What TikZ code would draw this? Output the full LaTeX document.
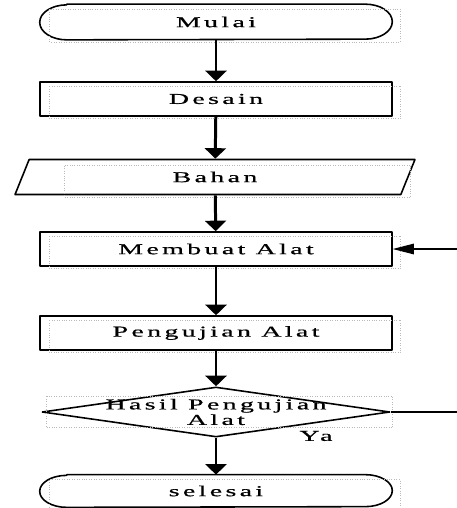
\documentclass[tikz,border=0pt]{standalone}
\usepackage{fontspec}
\setmainfont{Liberation Serif}[FakeStretch=1.85,LetterSpace=22,FakeBold=0.6]
\usetikzlibrary{shapes.geometric,arrows.meta,calc}
\newcommand\drawterm[2]{% stadium outline round node #1, half height #2
  \draw[outline] ($(#1.north west)+(0.54cm,0)$) -- ($(#1.north east)+(-0.54cm,0)$)
    arc[start angle=90, end angle=-90, x radius=0.54cm, y radius=#2]
    -- ($(#1.south west)+(0.54cm,0)$)
    arc[start angle=270, end angle=90, x radius=0.54cm, y radius=#2] -- cycle;}
\begin{document}
\begin{tikzpicture}[x=0.02cm, y=-0.02cm, font=\fontsize{8.6}{7.4}\selectfont, line join=round,
  outline/.style={draw, line width=0.9pt},
  box/.style={outline, minimum width=7.04cm, minimum height=0.68cm, inner sep=0pt},
  term/.style={minimum width=7.04cm, minimum height=0.7cm, inner sep=0pt},
  io/.style={outline, trapezium, trapezium left angle=37, trapezium right angle=143,
    trapezium stretches body, minimum width=8cm, minimum height=0.7cm, inner sep=0pt},
  decide/.style={outline, diamond, minimum width=6.96cm, minimum height=1cm, inner sep=0pt},
  flow/.style={-{Triangle[width=12pt,length=6pt]}, line width=1.7pt},
  back/.style={-{Triangle[width=6pt,length=12pt]}, line width=0.6pt},
  boxgrid/.style={draw=gray!55, densely dotted, line width=0.4pt}]
\useasboundingbox (0,0) rectangle (457,508);
% flowchart
\node[term] (start) at (216,22) {Mulai};
\node[box] (design) at (216,99) {Desain};
\node[io] (material) at (215,177) {Bahan};
\node[box] (build) at (216,249) {Membuat Alat};
\node[box] (test) at (216,333) {Pengujian Alat};
\node[decide, label={[align=center]center:Hasil Pengujian\\Alat}] (check) at (216,412) {};
\node[term, minimum height=0.64cm] (finish) at (216,491) {selesai};
\node (yes) at (316,436) {Ya};
\coordinate (loopin) at (457,249);
\coordinate (loopout) at (457,412);
\drawterm{start}{0.35cm}
\drawterm{finish}{0.32cm}
% text box outlines
\foreach \n in {start,design,build,test,finish}
  \draw[boxgrid] ($(\n.west |- \n.north)+(10,5)$) rectangle ($(\n.east |- \n.south)+(8,2)$);
\draw[boxgrid] ($(material.west |- material.north)+(43,7)$) rectangle ($(material.east |- material.south)+(2,2)$);
\draw[boxgrid] ($(check.west |- check.north)+(5,10)$) rectangle ($(check.east |- check.south)+(2,-10)$);
% connectors
\draw[flow] (start) -- (design);
\draw[flow] (design) -- (material);
\draw[flow] (material) -- (build);
\draw[flow] (build) -- (test);
\draw[flow] (test) -- (check);
\draw[flow] (check) -- (finish);
\draw[back] (loopin) -- (build.east);
\draw[line width=0.6pt] (check.east) -- (loopout);
\end{tikzpicture}
\end{document}
